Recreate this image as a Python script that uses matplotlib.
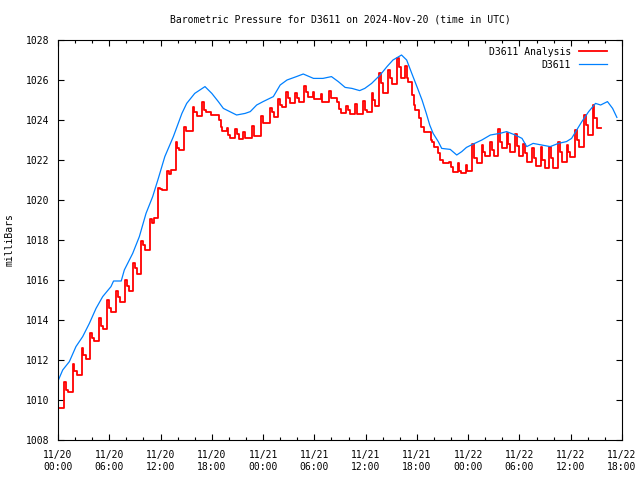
import matplotlib
matplotlib.use("Agg")
import matplotlib.pyplot as plt
import numpy as np

# ---------------- data ----------------
title = "Barometric Pressure for D3611 on 2024-Nov-20 (time in UTC)"
ylabel = "milliBars"
series_names = ["D3611 Analysis", "D3611"]

# station observations (hours since 11/20 00:00 UTC, mbar)
obs_t = [0.0, 0.55, 1.33, 2.1, 2.89, 3.67, 4.45, 5.23, 6.2, 6.5, 7.4, 7.76, 8.74, 9.52,
         10.3, 11.08, 11.74, 12.5, 13.5, 14.5, 15.06, 16.0, 16.6, 17.2, 18.0, 18.76,
         19.35, 20.1, 20.9, 21.9, 22.5, 23.25, 24.0, 25.2, 26.0, 26.8, 27.9, 28.7,
         29.9, 31.0, 32.0, 32.8, 33.6, 34.4, 35.3, 35.9, 36.7, 37.7, 38.5, 39.2, 40.2,
         40.8, 41.4, 42.0, 42.6, 43.1, 43.5, 43.9, 44.5, 44.9, 45.9, 46.66, 47.25,
         47.8, 48.6, 49.6, 50.6, 51.7, 52.5, 53.5, 54.3, 54.85, 55.6, 56.6, 57.6,
         58.55, 59.5, 60.1, 60.7, 61.3, 62.1, 62.9, 63.5, 64.3, 64.9, 65.4]
obs_p = [1010.95, 1011.5, 1011.92, 1012.67, 1013.17, 1013.83, 1014.58, 1015.17, 1015.67,
         1015.95, 1015.95, 1016.5, 1017.33, 1018.17, 1019.33, 1020.17, 1021.08, 1022.17,
         1023.17, 1024.33, 1024.83, 1025.33, 1025.5, 1025.67, 1025.33, 1024.92, 1024.58,
         1024.42, 1024.25, 1024.33, 1024.42, 1024.75, 1024.92, 1025.17, 1025.75, 1026.0,
         1026.17, 1026.3, 1026.08, 1026.08, 1026.17, 1025.92, 1025.63, 1025.58, 1025.47,
         1025.58, 1025.83, 1026.25, 1026.67, 1027.0, 1027.25, 1027.0, 1026.33, 1025.67,
         1025.0, 1024.33, 1023.75, 1023.33, 1022.92, 1022.58, 1022.53, 1022.25, 1022.42,
         1022.63, 1022.8, 1023.0, 1023.25, 1023.33, 1023.42, 1023.25, 1023.08, 1022.67,
         1022.83, 1022.75, 1022.67, 1022.83, 1022.92, 1023.08, 1023.5, 1023.92, 1024.42,
         1024.83, 1024.75, 1024.92, 1024.58, 1024.13]

# analysis: update times (hours) and values after update (hi), mid, and before next update (lo)
ana_t = [0.0, 0.74, 1.72, 2.77, 3.78, 4.83, 5.73, 6.79, 7.84, 8.81, 9.71, 10.77, 11.74,
         12.76, 13.75, 14.78, 15.76, 16.82, 17.87, 18.84, 19.74, 20.71, 21.69, 22.67,
         23.76, 24.81, 25.78, 26.65, 27.74, 28.79, 29.81, 30.74, 31.71, 32.69, 33.67,
         34.76, 35.73, 36.71, 37.6, 38.66, 39.71, 40.61, 41.47, 42.2, 43.6, 44.5, 45.76,
         46.77, 47.75, 48.5, 49.58, 50.56, 51.53, 52.5, 53.48, 54.45, 55.5, 56.49, 57.5,
         58.55, 59.53, 60.5, 61.56, 62.57]
ana_end = 63.6
ana_hi = [1009.58, 1010.88, 1011.8, 1012.58, 1013.37, 1014.08, 1015.0, 1015.45, 1016.0,
          1016.83, 1017.95, 1019.03, 1020.62, 1021.47, 1022.92, 1023.63, 1024.63, 1024.92,
          1024.25, 1024.0, 1023.58, 1023.53, 1023.42, 1023.72, 1024.2, 1024.58, 1025.03,
          1025.38, 1025.33, 1025.72, 1025.38, 1025.28, 1025.45, 1024.9, 1024.7, 1024.8,
          1024.95, 1025.37, 1026.33, 1026.5, 1027.08, 1026.72, 1025.25, 1024.08, 1023.0,
          1022.33, 1021.9, 1021.83, 1021.75, 1022.78, 1022.75, 1022.92, 1023.53, 1023.33,
          1023.28, 1022.78, 1022.62, 1022.67, 1022.67, 1022.92, 1022.75, 1023.5, 1024.25,
          1024.75]
ana_mid = [1009.58, 1010.5, 1011.45, 1012.25, 1013.08, 1013.72, 1014.58, 1015.17, 1015.72,
           1016.58, 1017.75, 1018.85, 1020.53, 1021.28, 1022.6, 1023.45, 1024.42, 1024.5,
           1024.25, 1023.67, 1023.25, 1023.3, 1023.08, 1023.2, 1023.83, 1024.42, 1024.75,
           1025.08, 1025.1, 1025.42, 1025.03, 1024.92, 1025.12, 1024.53, 1024.5, 1024.28,
           1024.5, 1025.0, 1025.83, 1026.08, 1026.67, 1026.08, 1024.75, 1023.67, 1022.92,
           1022.0, 1021.67, 1021.45, 1021.45, 1022.08, 1022.4, 1022.5, 1022.92, 1022.8,
           1022.7, 1022.33, 1022.1, 1022.0, 1022.1, 1022.4, 1022.4, 1023.0, 1023.75,
           1024.08]
ana_lo = [1009.58, 1010.38, 1011.23, 1012.03, 1012.97, 1013.55, 1014.38, 1014.88, 1015.45,
          1016.28, 1017.5, 1019.08, 1020.5, 1021.5, 1022.5, 1023.45, 1024.2, 1024.42,
          1024.25, 1023.45, 1023.08, 1023.03, 1023.08, 1023.2, 1023.83, 1024.13, 1024.67,
          1024.87, 1024.88, 1025.17, 1025.03, 1024.92, 1025.1, 1024.33, 1024.28, 1024.28,
          1024.42, 1024.7, 1025.33, 1025.78, 1026.08, 1025.92, 1024.5, 1023.42, 1022.67,
          1021.83, 1021.42, 1021.33, 1021.45, 1021.83, 1022.2, 1022.2, 1022.58, 1022.42,
          1022.2, 1021.92, 1021.7, 1021.58, 1021.62, 1021.92, 1022.17, 1022.67, 1023.25,
          1023.58]

xtick_hours = [0, 6, 12, 18, 24, 30, 36, 42, 48, 54, 60, 66]
xtick_labels = ["11/20\n00:00", "11/20\n06:00", "11/20\n12:00", "11/20\n18:00",
                "11/21\n00:00", "11/21\n06:00", "11/21\n12:00", "11/21\n18:00",
                "11/22\n00:00", "11/22\n06:00", "11/22\n12:00", "11/22\n18:00"]
yticks = [1008, 1010, 1012, 1014, 1016, 1018, 1020, 1022, 1024, 1026, 1028]

# ---------------- build step path for analysis ----------------
rt, rv = [], []
ends = ana_t[1:] + [ana_end]
for t0, t1, hi, md, lo in zip(ana_t, ends, ana_hi, ana_mid, ana_lo):
    d = t1 - t0
    rt += [t0, t0 + 0.2 * d, t0 + 0.45 * d]
    rv += [hi, md, lo]
rt.append(ana_end)
rv.append(ana_lo[-1])

# ---------------- plot ----------------
FONT = "DejaVu Sans Mono"
plt.rcParams["font.family"] = FONT
plt.rcParams["font.size"] = 7

fig = plt.figure(figsize=(6.4, 4.8), dpi=100)
ax = fig.add_axes([58 / 640, 40 / 480, 564 / 640, 400 / 480])

ax.plot(rt, rv, color="#ff0000", lw=1.3, drawstyle="steps-post", label=series_names[0])
ax.plot(obs_t, obs_p, color="#0080ff", lw=0.9, label=series_names[1])

ax.set_xlim(0, 66)
ax.set_ylim(1008, 1028)
ax.set_xticks(xtick_hours)
ax.set_xticklabels(xtick_labels, linespacing=1.3)
ax.set_xticks(np.arange(0, 67, 2), minor=True)
ax.set_yticks(yticks)
ax.set_yticklabels([str(v) for v in yticks])

ax.tick_params(axis="both", which="both", direction="in", top=True, right=True,
               width=0.8, colors="black")
ax.tick_params(axis="x", which="major", length=4, pad=7)
ax.tick_params(axis="x", which="minor", length=2.2)
ax.tick_params(axis="y", which="major", length=4, pad=6)
for s in ax.spines.values():
    s.set_linewidth(0.8)

fig.text(340 / 640, 1 - 19 / 480, title, ha="center", va="center", fontsize=7)
fig.text(10 / 640, 240 / 480, ylabel, ha="center", va="center", rotation=90, fontsize=7)

leg = ax.legend(loc="upper right", frameon=False, markerfirst=False,
                handlelength=2.9, handletextpad=0.8, labelspacing=0.3,
                borderaxespad=0.3, bbox_to_anchor=(0.985, 1.0))

fig.savefig("out.png", dpi=100)
